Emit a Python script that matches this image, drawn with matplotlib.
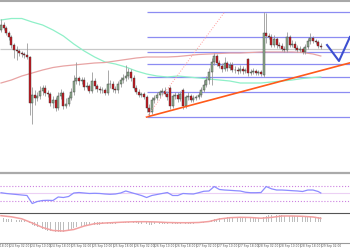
import matplotlib
matplotlib.use('Agg')
import matplotlib.pyplot as plt
import numpy as np
from matplotlib.lines import Line2D
from matplotlib.transforms import blended_transform_factory


# hourly candles, EUR/USD style prices
opens = [1.1270, 1.1275, 1.1272, 1.1267, 1.1263, 1.1255, 1.1250, 1.1249, 1.1247, 1.1246,
	1.1245, 1.1243, 1.1197, 1.1205, 1.1202, 1.1204, 1.1209, 1.1212, 1.1207, 1.1206,
	1.1197, 1.1200, 1.1192, 1.1204, 1.1207, 1.1194, 1.1196, 1.1202, 1.1208, 1.1219,
	1.1222, 1.1219, 1.1220, 1.1213, 1.1214, 1.1209, 1.1219, 1.1214, 1.1211, 1.1210,
	1.1210, 1.1207, 1.1216, 1.1216, 1.1211, 1.1210, 1.1216, 1.1220, 1.1222, 1.1224,
	1.1228, 1.1222, 1.1212, 1.1208, 1.1205, 1.1206, 1.1203, 1.1192, 1.1188, 1.1200,
	1.1202, 1.1205, 1.1208, 1.1209, 1.1206, 1.1212, 1.1194, 1.1204, 1.1205, 1.1201,
	1.1210, 1.1194, 1.1203, 1.1204, 1.1200, 1.1202, 1.1203, 1.1205, 1.1210, 1.1215,
	1.1220, 1.1228, 1.1238, 1.1244, 1.1237, 1.1234, 1.1231, 1.1237, 1.1232, 1.1235,
	1.1230, 1.1230, 1.1229, 1.1231, 1.1229, 1.1241, 1.1227, 1.1228, 1.1229, 1.1227,
	1.1228, 1.1225, 1.1267, 1.1264, 1.1263, 1.1255, 1.1261, 1.1255, 1.1254, 1.1251,
	1.1250, 1.1263, 1.1255, 1.1256, 1.1252, 1.1250, 1.1251, 1.1248, 1.1253, 1.1259,
	1.1262, 1.1259, 1.1258, 1.1254]
highs = [1.1281, 1.1278, 1.1274, 1.1269, 1.1265, 1.1257, 1.1254, 1.1251, 1.1249, 1.1248,
	1.1257, 1.1244, 1.1213, 1.1210, 1.1208, 1.1214, 1.1215, 1.1215, 1.1210, 1.1208,
	1.1204, 1.1203, 1.1208, 1.1211, 1.1209, 1.1202, 1.1205, 1.1212, 1.1225, 1.1238,
	1.1224, 1.1223, 1.1223, 1.1218, 1.1216, 1.1228, 1.1222, 1.1216, 1.1214, 1.1213,
	1.1212, 1.1230, 1.1220, 1.1219, 1.1214, 1.1219, 1.1223, 1.1226, 1.1235, 1.1232,
	1.1231, 1.1225, 1.1215, 1.1211, 1.1208, 1.1208, 1.1205, 1.1196, 1.1203, 1.1205,
	1.1208, 1.1210, 1.1212, 1.1213, 1.1209, 1.1214, 1.1206, 1.1208, 1.1208, 1.1209,
	1.1212, 1.1205, 1.1208, 1.1206, 1.1205, 1.1205, 1.1208, 1.1213, 1.1220, 1.1224,
	1.1232, 1.1242, 1.1247, 1.1246, 1.1240, 1.1237, 1.1243, 1.1239, 1.1238, 1.1238,
	1.1234, 1.1233, 1.1235, 1.1234, 1.1232, 1.1242, 1.1231, 1.1232, 1.1231, 1.1230,
	1.1230, 1.1288, 1.1287, 1.1267, 1.1266, 1.1265, 1.1263, 1.1258, 1.1257, 1.1254,
	1.1268, 1.1265, 1.1260, 1.1259, 1.1255, 1.1254, 1.1253, 1.1256, 1.1262, 1.1267,
	1.1264, 1.1261, 1.1260, 1.1257]
lows = [1.1268, 1.1270, 1.1265, 1.1260, 1.1252, 1.1242, 1.1240, 1.1244, 1.1243, 1.1242,
	1.1241, 1.1185, 1.1176, 1.1195, 1.1199, 1.1201, 1.1205, 1.1204, 1.1203, 1.1194,
	1.1192, 1.1189, 1.1190, 1.1201, 1.1191, 1.1192, 1.1194, 1.1200, 1.1205, 1.1216,
	1.1215, 1.1216, 1.1210, 1.1211, 1.1207, 1.1207, 1.1211, 1.1208, 1.1207, 1.1207,
	1.1205, 1.1205, 1.1212, 1.1208, 1.1207, 1.1207, 1.1213, 1.1217, 1.1219, 1.1221,
	1.1219, 1.1210, 1.1206, 1.1203, 1.1203, 1.1201, 1.1188, 1.1183, 1.1186, 1.1197,
	1.1200, 1.1202, 1.1205, 1.1204, 1.1200, 1.1191, 1.1192, 1.1201, 1.1198, 1.1199,
	1.1191, 1.1192, 1.1200, 1.1198, 1.1198, 1.1200, 1.1201, 1.1203, 1.1208, 1.1213,
	1.1216, 1.1215, 1.1235, 1.1234, 1.1232, 1.1228, 1.1229, 1.1229, 1.1230, 1.1228,
	1.1227, 1.1226, 1.1227, 1.1226, 1.1227, 1.1224, 1.1225, 1.1226, 1.1225, 1.1225,
	1.1224, 1.1223, 1.1257, 1.1261, 1.1253, 1.1253, 1.1252, 1.1252, 1.1249, 1.1248,
	1.1248, 1.1253, 1.1253, 1.1250, 1.1248, 1.1248, 1.1246, 1.1246, 1.1251, 1.1256,
	1.1257, 1.1256, 1.1252, 1.1251]
closes = [1.1275, 1.1272, 1.1267, 1.1263, 1.1255, 1.1250, 1.1249, 1.1247, 1.1246, 1.1245,
	1.1243, 1.1197, 1.1205, 1.1202, 1.1204, 1.1209, 1.1212, 1.1207, 1.1206, 1.1197,
	1.1200, 1.1192, 1.1204, 1.1207, 1.1194, 1.1196, 1.1202, 1.1208, 1.1219, 1.1222,
	1.1219, 1.1220, 1.1213, 1.1214, 1.1209, 1.1219, 1.1214, 1.1211, 1.1210, 1.1210,
	1.1207, 1.1216, 1.1216, 1.1211, 1.1210, 1.1216, 1.1220, 1.1222, 1.1224, 1.1228,
	1.1222, 1.1212, 1.1208, 1.1205, 1.1206, 1.1203, 1.1192, 1.1188, 1.1200, 1.1202,
	1.1205, 1.1208, 1.1209, 1.1206, 1.1203, 1.1194, 1.1204, 1.1205, 1.1201, 1.1206,
	1.1194, 1.1203, 1.1204, 1.1200, 1.1202, 1.1203, 1.1205, 1.1210, 1.1215, 1.1220,
	1.1228, 1.1238, 1.1244, 1.1237, 1.1234, 1.1231, 1.1237, 1.1232, 1.1235, 1.1230,
	1.1230, 1.1229, 1.1231, 1.1229, 1.1230, 1.1227, 1.1228, 1.1229, 1.1227, 1.1228,
	1.1226, 1.1267, 1.1264, 1.1263, 1.1255, 1.1261, 1.1255, 1.1254, 1.1251, 1.1250,
	1.1263, 1.1255, 1.1256, 1.1252, 1.1250, 1.1251, 1.1248, 1.1253, 1.1259, 1.1262,
	1.1259, 1.1258, 1.1254, 1.1253]

# moving averages, read every 4 candles
ma_idx = list(range(0, 124, 4)) + [123]
ma_fast = [1.1280, 1.12815, 1.12815, 1.1278, 1.1275, 1.1270, 1.1264, 1.1256, 1.1249, 1.1243,
	1.1238, 1.1236, 1.1233, 1.1229, 1.1226, 1.1224, 1.1223, 1.1224, 1.1223, 1.1222,
	1.1221, 1.1220, 1.1219, 1.1217, 1.1217, 1.1217, 1.1218, 1.1219, 1.1220, 1.12215,
	1.12225, 1.1223]
ma_slow = [1.1217, 1.1220, 1.1224, 1.1227, 1.1230, 1.12325, 1.1234, 1.1235, 1.1236, 1.1237,
	1.12375, 1.1239, 1.12405, 1.1242, 1.1243, 1.1243, 1.1243, 1.12435, 1.12445, 1.12455,
	1.1246, 1.12465, 1.1247, 1.1247, 1.12475, 1.1248, 1.1248, 1.1248, 1.1248, 1.12475,
	1.1246, 1.1244]

# drawn objects
level_prices = [1.1288, 1.1263, 1.1248, 1.1236, 1.1223, 1.1208, 1.1183]
pivot_price = 1.1251
trend_idx = [56, 134]
trend_prices = [1.1183, 1.1237]
fan_idx = [56, 86]
fan_prices = [1.1183, 1.1288]
arrow_idx = [125.4, 130, 134.2]
arrow_prices = [1.1255, 1.1239, 1.1263]

# RSI, read every 2 candles
rsi_idx = list(range(0, 124, 2)) + [123]
rsi = [51.8, 49.7, 48.3, 47.0, 45.6, 44.3, 22.8, 28.2, 30.9, 31.4,
	30.9, 40.3, 38.9, 41.6, 51.0, 52.3, 51.0, 49.7, 50.2, 49.7,
	48.3, 47.5, 48.3, 51.0, 56.4, 52.3, 48.3, 44.3, 38.9, 44.3,
	47.0, 49.7, 52.3, 44.3, 44.3, 49.7, 48.8, 48.3, 51.8, 55.6,
	56.4, 68.4, 60.4, 59.0, 58.2, 57.2, 56.4, 53.1, 51.8, 51.8,
	52.3, 68.4, 62.3, 59.0, 59.0, 58.2, 57.2, 56.4, 55.0, 59.0,
	59.0, 55.0, 51.0]

# MACD in pips
macd_hist = [4, 4, 3.5, 3.5, 3, 3, 2.5, 2.5, 2, 2,
	1.5, -1, -3, -4, -5, -6, -7, -7.5, -8.5, -9,
	-9.5, -10, -10, -10, -10, -9, -8, -7, -6, -5,
	-4.5, -4, -3.5, -3.5, -3, -3, -2.5, -2.5, -2.5, -2,
	-2, -2, -1.5, -1.5, -1.5, -1.5, -1, -1, -1, -0.5,
	-0.5, -1, -1, -1.5, -1.5, -2, -2, -2.5, -2.5, -2,
	-2, -2, -2, -2, -2, -2, -2, -2, -2, -2,
	-2, -2, -1.5, -1.5, -1.5, -1.5, -1, -1, -0.5, 0,
	1, 2, 3, 3.5, 4, 4.5, 4.5, 5, 5, 5,
	5, 5, 5, 5, 4.5, 4.5, 4.5, 4.5, 4, 4,
	4, 5.5, 6.5, 7, 7, 7, 7, 7, 7, 6.5,
	6.5, 6.5, 6.5, 6, 6, 6, 5.5, 5.5, 5.5, 5.5,
	5, 5, 5, 5]
macd_signal = [6.3, 5.2, 3.2, -1, -5.5, -8.5, -9, -7.5, -4, -1.7,
	-1, -0.5, 0, 0.3, 0.3, 0, -0.5, -0.7, -0.7, -0.5,
	0.5, 3, 4.3, 4.7, 4.5, 3.8, 4.6, 6, 6, 5.7,
	5, 3.7]

tick_idx = [-5, 3, 11, 19, 27, 35, 43, 51, 59, 67, 75, 83, 91, 99, 107, 115, 123]
tick_labels = ['23 Sep 18:00', '24 Sep 02:00', '24 Sep 10:00', '24 Sep 18:00',
	'25 Sep 02:00', '25 Sep 10:00', '25 Sep 18:00', '26 Sep 02:00',
	'26 Sep 10:00', '26 Sep 18:00', '27 Sep 02:00', '27 Sep 10:00',
	'27 Sep 18:00', '28 Sep 02:00', '28 Sep 10:00', '28 Sep 18:00',
	'29 Sep 02:00']


def main():

	fig = plt.figure(figsize=(3.5, 2.5), dpi=100)
	fig.patch.set_facecolor('white')

	xlim = (-0.385, 134.23)

	ax = fig.add_axes([0, 0.312, 1, 0.688])
	ax_rsi = fig.add_axes([0, 0.152, 1, 0.152])
	ax_macd = fig.add_axes([0, 0.028, 1, 0.116])

	for a in (ax, ax_rsi, ax_macd):
		a.set_xlim(*xlim)
		for s in a.spines.values():
			s.set_visible(False)
		a.set_yticks([])
		a.set_xticks([])

	# price panel
	o = np.array(opens)
	h = np.array(highs)
	l = np.array(lows)
	c = np.array(closes)
	x = np.arange(len(c))
	up = c >= o

	ax.hlines(pivot_price, xlim[0], xlim[1], color='#c8c8c8', lw=0.9, zorder=1)
	ax.hlines(level_prices, trend_idx[0], xlim[1], color='#8c8cf2', lw=0.9, zorder=1)
	ax.plot(ma_idx, ma_fast, color='#8ff0c8', lw=0.9, zorder=2)
	ax.plot(ma_idx, ma_slow, color='#e8a4a4', lw=0.9, zorder=2)

	ax.vlines(x, l, h, color='#9a9a9a', lw=0.6, zorder=3)
	ax.bar(x[up], (c - o)[up], bottom=o[up], width=0.7, color='#8fae8f',
		edgecolor='#3a3a3a', linewidth=0.3, zorder=4)
	ax.bar(x[~up], (c - o)[~up], bottom=o[~up], width=0.7, color='#c8161d',
		edgecolor='#3a3a3a', linewidth=0.3, zorder=4)

	ax.plot(trend_idx, trend_prices, color='#ff5a1a', lw=1.2, zorder=5)
	ax.plot(fan_idx, fan_prices, color='#ff9c9c', lw=0.7, ls=':', zorder=5)
	ax.plot(arrow_idx, arrow_prices, color='#3d4fd0', lw=1.5, zorder=5)
	ax.set_ylim(1.1128, 1.1300)

	# RSI panel
	ax_rsi.axhline(70, color='#cc80e0', lw=0.8, ls=':')
	ax_rsi.axhline(30, color='#cc80e0', lw=0.8, ls=':')
	ax_rsi.axhline(50, color='#ecd0f4', lw=0.8)
	ax_rsi.plot(rsi_idx, rsi, color='#8c8cff', lw=0.9)
	ax_rsi.set_ylim(0, 102)

	# MACD panel
	ax_macd.bar(x, macd_hist, width=0.35, color='#bdbdbd')
	ax_macd.plot(ma_idx, macd_signal, color='#f2a0a0', lw=1.1)
	ax_macd.set_ylim(-21, 8)

	ax_macd.set_xticks(tick_idx[1:])
	ax_macd.tick_params(axis='x', length=3, width=0.5, color='#888888',
		direction='out', labelbottom=False)
	trans = blended_transform_factory(ax_macd.transData, ax_macd.transAxes)
	for t, lab in zip(tick_idx, tick_labels):
		ax_macd.text(t + 0.4, -0.04, lab, transform=trans, fontsize=2.1,
			ha='left', va='top', color='#555555', clip_on=False)

	# separators
	fig.add_artist(Line2D([0, 1], [0.997, 0.997], color='#a8a8a8', lw=1.5))
	fig.add_artist(Line2D([0, 1], [0.308, 0.308], color='#aaaaaa', lw=1.6))
	fig.add_artist(Line2D([0, 1], [0.148, 0.148], color='#555555', lw=0.8))
	fig.add_artist(Line2D([0, 1], [0.028, 0.028], color='#999999', lw=0.8))

	fig.savefig('out.png', dpi=100)

if __name__ == '__main__':
	main()
